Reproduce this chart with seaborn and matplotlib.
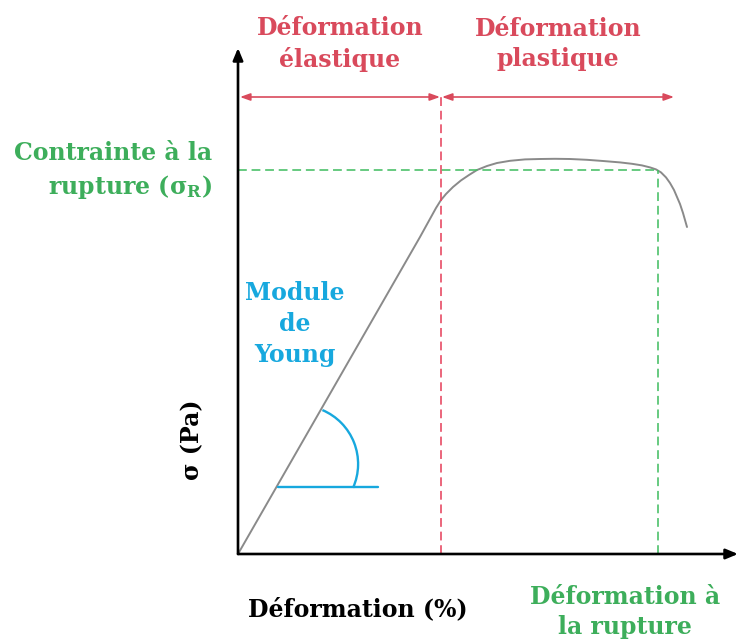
import numpy as np
import pandas as pd
import matplotlib
matplotlib.use("Agg")
import matplotlib.pyplot as plt
from matplotlib.patches import Arc
import seaborn as sns

# courbe contrainte-deformation (unites arbitraires)
strain = [0, 9.1, 9.9, 10.15, 10.4, 10.75, 11.15, 11.55, 11.95, 12.45, 12.95, 13.6,
          14.35, 15.1, 15.85, 16.6, 17.45, 18.25, 19.1, 19.7, 20.2, 20.6, 20.9,
          21.15, 21.4, 21.6, 21.8, 21.95, 22.1, 22.25, 22.35, 22.45]
stress = [0, 15.85, 17.3, 17.7, 18.0, 18.35, 18.68, 18.95, 19.2, 19.4, 19.55, 19.66,
          19.73, 19.75, 19.76, 19.75, 19.71, 19.65, 19.58, 19.51, 19.43, 19.33, 19.23,
          19.08, 18.83, 18.55, 18.2, 17.85, 17.5, 17.05, 16.7, 16.35]

elastic_limit = 10.15      # fin du domaine elastique
rupture_strain = 21.0      # deformation a la rupture
rupture_stress = 19.2      # contrainte a la rupture
zone_end = 21.8            # fin de la fleche "plastique"
x_max, y_max = 25.0, 25.3  # longueur des axes

RED = "#D94A5C"
RED_DASH = "#E6435E"
GREEN = "#3DAE5B"
GREEN_DASH = "#45BE64"
BLUE = "#17A8DE"

sns.set_theme(style="white")
plt.rcParams["font.family"] = ["DejaVu Serif"]
plt.rcParams["mathtext.fontset"] = "dejavuserif"

df = pd.DataFrame({"strain": strain, "stress": stress})

fig = plt.figure(figsize=(7.39, 6.44), dpi=100)
ax = fig.add_axes([0, 0, 1, 1])
ax.set_xlim(-11.9, 25.05)
ax.set_ylim(-4.5, 27.7)
ax.axis("off")

sns.lineplot(data=df, x="strain", y="stress", ax=ax, color="#8a8a8a", lw=1.4,
             sort=False, estimator=None)

# axes avec fleches
arrow_kw = dict(arrowstyle="-|>,head_length=0.6,head_width=0.25", color="black",
                lw=1.9, shrinkA=0, shrinkB=0)
ax.annotate("", xy=(x_max, 0), xytext=(0, 0), arrowprops=arrow_kw)
ax.annotate("", xy=(0, y_max), xytext=(0, 0), arrowprops=arrow_kw)

dash = (0, (5.5, 3))

# limite elastique
zone_y = 22.85
ax.plot([elastic_limit, elastic_limit], [0, zone_y], color=RED_DASH, lw=1.15, ls=dash)
red_kw = dict(arrowstyle="<|-|>,head_length=0.5,head_width=0.18", color=RED,
              lw=1.2, shrinkA=0, shrinkB=0)
ax.annotate("", xy=(0.1, zone_y), xytext=(elastic_limit - 0.05, zone_y),
            arrowprops=red_kw)
ax.annotate("", xy=(elastic_limit + 0.05, zone_y), xytext=(zone_end, zone_y),
            arrowprops=red_kw)

# rupture
ax.plot([0, rupture_strain], [rupture_stress, rupture_stress], color=GREEN_DASH,
        lw=1.15, ls=dash)
ax.plot([rupture_strain, rupture_strain], [0, rupture_stress], color=GREEN_DASH,
        lw=1.15, ls=dash)

# module de Young
ax.plot([2.0, 7.0], [3.35, 3.35], color=BLUE, lw=1.7)
ax.add_patch(Arc((3.075, 4.5), 2 * 2.93, 2 * 2.93, theta1=-24, theta2=67,
                 color=BLUE, lw=1.7))

fs = 17
bold = dict(fontsize=fs, fontweight="bold", linespacing=1.35)
ax.text(5.1, 25.5, "Déformation\nélastique", color=RED, ha="center", va="center", **bold)
ax.text(16.0, 25.5, "Déformation\nplastique", color=RED, ha="center", va="center", **bold)
ax.text(-1.3, 19.15, "Contrainte à la\nrupture (σ$_\\mathbf{R}$)", color=GREEN,
        ha="right", va="center", **bold)
ax.text(2.85, 11.5, "Module\nde\nYoung", color=BLUE, ha="center", va="center", **bold)
ax.text(-2.3, 5.7, "σ (Pa)", color="black", rotation=90, ha="center", va="center", **bold)
ax.text(6.0, -2.75, "Déformation (%)", color="black", ha="center", va="center", **bold)
ax.text(19.35, -2.9, "Déformation à\nla rupture", color=GREEN, ha="center",
        va="center", **bold)

fig.savefig("out.png", dpi=100, facecolor="white")
